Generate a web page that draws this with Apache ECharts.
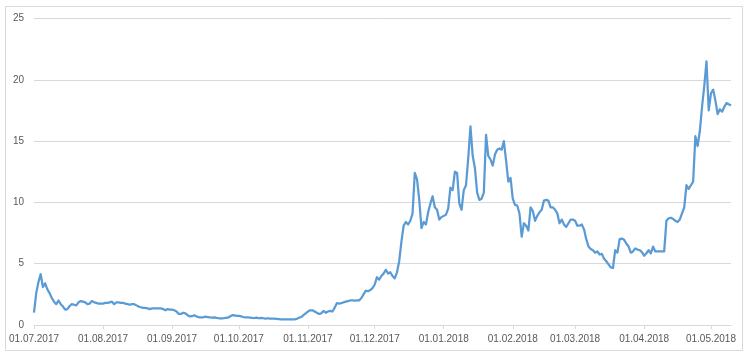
<!DOCTYPE html>
<html>
<head>
<meta charset="utf-8">
<script src="https://cdn.jsdelivr.net/npm/echarts@6/dist/echarts.min.js"></script>
<style>
html,body{margin:0;padding:0;background:#fff;}
#chart{width:750px;height:362px;}
</style>
</head>
<body>
<div id="chart"></div>
<script>
// Start date of the daily series and value ticks
const startDate = [2017, 7, 1];
const yTicks = [0, 5, 10, 15, 20, 25];

// Daily values by month
const jul2017 = [1.0,2.6,3.5,4.15,3.1,3.4,2.9,2.6,2.2,1.9,1.7,2.0,1.7,1.5,1.25,1.3,1.55,1.7,1.65,1.6,1.85,1.95,1.9,1.85,1.7,1.75,1.95,1.85,1.8,1.75,1.75];
const aug2017 = [1.75,1.8,1.8,1.85,1.9,1.7,1.85,1.85,1.8,1.8,1.75,1.7,1.65,1.7,1.7,1.6,1.5,1.45,1.4,1.4,1.35,1.3,1.35,1.35,1.35,1.35,1.35,1.3,1.2,1.3,1.25];
const sep2017 = [1.25,1.2,1.1,0.9,0.9,1.0,0.95,0.8,0.7,0.72,0.8,0.7,0.63,0.63,0.63,0.68,0.65,0.62,0.6,0.62,0.58,0.55,0.55,0.55,0.58,0.6,0.7,0.8,0.78,0.75];
const oct2017 = [0.74,0.7,0.65,0.63,0.62,0.6,0.58,0.57,0.6,0.55,0.58,0.55,0.52,0.55,0.52,0.52,0.52,0.5,0.48,0.46,0.46,0.46,0.46,0.46,0.46,0.46,0.5,0.6,0.65,0.8,0.95];
const nov2017 = [1.1,1.2,1.2,1.1,1.0,0.9,0.95,1.15,1.0,1.1,1.15,1.1,1.4,1.78,1.75,1.78,1.85,1.9,1.95,2.0,2.0,1.98,2.0,2.0,2.2,2.5,2.8,2.75,2.85,3.0];
const dec2017 = [3.3,3.9,3.7,4.0,4.2,4.5,4.2,4.3,4.0,3.8,4.3,5.2,6.8,8.1,8.4,8.2,8.5,9.1,12.4,11.9,10.2,7.9,8.4,8.2,9.2,9.9,10.5,9.6,9.4,8.6,8.8];
const jan2018 = [8.9,9.0,9.5,11.2,11.0,12.5,12.4,9.9,9.4,11.0,11.4,13.6,16.2,13.8,12.8,10.8,10.2,10.3,10.8,15.5,13.8,13.5,13.0,13.9,14.3,14.4,14.3,15.0,13.4,11.7,12.0];
const feb2018 = [10.3,9.8,9.75,9.1,7.2,8.3,8.1,7.7,9.6,9.3,8.5,8.9,9.2,9.4,10.15,10.2,10.15,9.6,9.6,9.4,9.1,8.3,8.6,8.2,8.0,8.3,8.6,8.6];
const mar2018 = [8.5,8.1,8.1,8.2,7.8,7.0,6.4,6.2,6.1,5.9,6.0,5.75,5.8,5.4,5.2,4.95,4.7,4.65,6.1,5.9,7.0,7.05,6.95,6.65,6.4,5.9,6.0,6.25,6.15,6.1,5.95];
const apr2018 = [5.65,5.85,6.1,5.85,6.4,6.0,6.0,6.0,6.0,6.0,8.5,8.7,8.75,8.65,8.5,8.4,8.6,9.1,9.6,11.4,11.1,11.4,11.7,15.4,14.6,15.8,17.8,19.5,21.5,17.5];
const may2018 = [18.9,19.2,18.3,17.2,17.6,17.4,17.8,18.1,18.0,17.9];

const values = [].concat(jul2017,aug2017,sep2017,oct2017,nov2017,dec2017,jan2018,feb2018,mar2018,apr2018,may2018);

function pad(n){return (n<10?'0':'')+n;}
const dates = [];
{
  const d0 = new Date(Date.UTC(startDate[0], startDate[1]-1, startDate[2]));
  for (let i = 0; i < values.length; i++) {
    const d = new Date(d0.getTime() + i*86400000);
    dates.push(pad(d.getUTCDate())+'.'+pad(d.getUTCMonth()+1)+'.'+d.getUTCFullYear());
  }
}

const isMonthStart = (idx, val) => String(val).slice(0,3) === '01.';

const chart = echarts.init(document.getElementById('chart'), null, {renderer:'canvas'});
chart.setOption({
  animation: false,
  backgroundColor: '#ffffff',
  graphic: [{
    type: 'rect',
    shape: {x: 5.5, y: 6.5, width: 737, height: 344},
    style: {fill: 'none', stroke: '#d9d9d9', lineWidth: 1},
    silent: true
  }],
  grid: {left: 34, right: 19, top: 18.5, bottom: 37, containLabel: false},
  xAxis: {
    type: 'category',
    data: dates,
    boundaryGap: false,
    axisLine: {show: true, lineStyle: {color: '#d9d9d9', width: 1}},
    axisTick: {show: true, interval: isMonthStart, length: 4, lineStyle: {color: '#d9d9d9'}},
    axisLabel: {
      interval: isMonthStart,
      color: '#595959',
      fontSize: 10,
      fontFamily: 'Liberation Sans, Arial, sans-serif',
      margin: 9,
      hideOverlap: false
    },
    splitLine: {show: false}
  },
  yAxis: {
    type: 'value',
    min: yTicks[0],
    max: yTicks[yTicks.length-1],
    interval: yTicks[1]-yTicks[0],
    axisLine: {show: false},
    axisTick: {show: false},
    axisLabel: {
      color: '#595959',
      fontSize: 10,
      fontFamily: 'Liberation Sans, Arial, sans-serif',
      margin: 10
    },
    splitLine: {lineStyle: {color: '#d9d9d9', width: 1}}
  },
  series: [{
    type: 'line',
    data: values,
    showSymbol: false,
    symbol: 'none',
    lineStyle: {color: '#5B9BD5', width: 2.25, join: 'round'},
    itemStyle: {color: '#5B9BD5'}
  }]
});
</script>
</body>
</html>
